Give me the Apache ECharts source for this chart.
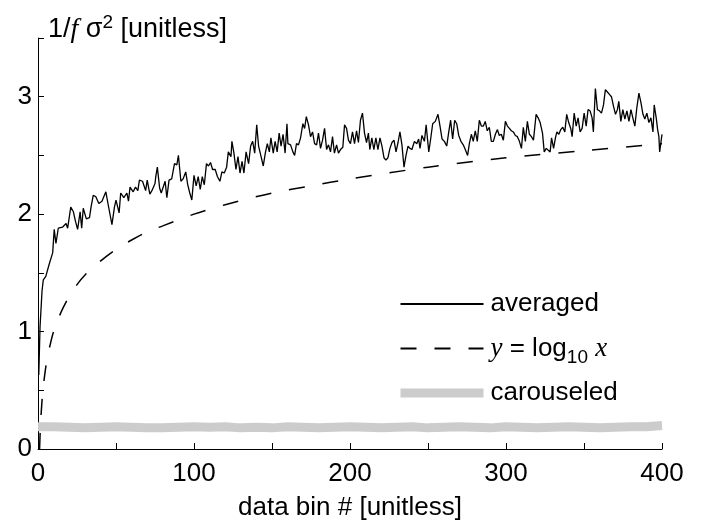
<!DOCTYPE html>
<html>
<head>
<meta charset="utf-8">
<script src="https://cdn.jsdelivr.net/npm/echarts@6/dist/echarts.min.js"></script>
<style>
  html, body { margin: 0; padding: 0; background: #fff; }
  #chart { width: 714px; height: 522px; }
</style>
</head>
<body>
<div id="chart"></div>
<script>
// averaged curve (x = data bin, y = 1/f sigma^2)
const avgX = [0.5, 1.3, 2.6, 3.4, 5, 7.3, 9.4, 10.4, 11.5, 13, 15.8, 18, 19, 21, 22.7, 24, 25.4, 27, 28, 29, 31, 33, 34, 35.4, 37, 39, 41, 43.5, 45, 47.4, 49, 50, 52, 53, 55, 57, 58, 59, 61, 62.5, 64, 65, 67, 69, 70, 71.7, 73, 75, 75.5, 76.5,
  78, 79, 81.5, 82.6, 84, 85.7, 87.5, 89, 90, 91.6, 93, 94.7, 96, 97.3, 98.6, 100, 101.4, 102.7, 104, 105.3, 106.6, 108, 109.3, 110.6, 111.9, 113.6, 115, 116.6, 117.9, 119.4, 120.9, 122, 123.7, 124.3, 125.6, 126.9, 128.2, 129.5, 130.8, 132, 133.4, 135, 136.3, 137.6, 138.9, 140.2, 141.4, 143, 144.4, 145.7, 147, 148.3, 149.3, 150.8, 152, 153.3, 154.6, 155.8, 157.1, 158.4, 159.6,
  160.2, 161.9, 163.4, 164.5, 165.7, 167, 168.3, 169.8, 170.9, 172, 173.4, 174.7, 176, 177.3, 178.6, 179.8, 181.1, 182.4, 183.7, 185, 186.2, 187.5, 188.8, 190, 191.4, 192.6, 193.9, 195.4, 196.5, 197.8, 199, 200.3, 201.6, 202.9, 204.2, 205.4, 206.7, 208, 209.3, 210.6, 211.8, 212.7, 214, 215.3, 216.6, 217.9, 219.2, 220.5, 221.8, 223, 224.3, 225.6, 226.9, 228.2, 229.5, 230.8, 232, 233.3, 234.6, 235.9, 237.2, 238.4,
  239.7, 241.3, 242.8, 244, 244.9, 246.1, 247.7, 248.8, 250.5, 251.7, 253, 254.7, 256.4, 257.7, 259, 260.5, 262, 263.3, 264.5, 265.8, 267.1, 268.4, 269.7, 271.1, 272.6, 273.9, 275.4, 276.5, 277.8, 279, 280.3, 281.6, 282.9, 284.2, 285.5, 286.7, 288, 289.3, 290.6, 291.9, 293.2, 294.5, 295.7, 297, 298.3, 299.6, 300.9, 302.2, 303.4, 304.7, 306, 307.3, 308.6, 309.9, 311.1, 312.4, 313.7, 315, 316.3, 317.6, 319.3,
  320.6, 321.9, 323.4, 324.5, 325.8, 327, 328.3, 329.2, 330.5, 331.7, 332.6, 333.9, 335.1, 336.4, 337.7, 338.9, 340.2, 341.5, 342.4, 343.7, 345, 346.2, 347.5, 348.8, 350.1, 351.4, 352.6, 353.9, 355.2, 356, 357.3, 358.6, 359.9, 361.2, 362.5, 363.7, 365, 366.3, 367.6, 368.9, 370.2, 371.4, 372.3, 373.6, 374.9, 376.2, 377.5, 378.8, 380.1, 381.3, 382.6, 383.9, 385.2, 386.5, 387.8, 389, 390.3, 391.6, 392.9, 394.2, 395, 396.3, 397.2, 398, 398.5, 399.4, 400]
const avgY = [0.63, 1.04, 1.35, 1.44, 1.47, 1.58, 1.67, 1.87, 1.75, 1.88, 1.89, 1.92, 1.88, 2.06, 2.02, 1.94, 1.87, 2.02, 1.88, 2.05, 1.96, 1.97, 2.06, 2.16, 2.15, 2.09, 2.11, 2.19, 2.08, 1.91, 2.06, 2.12, 2.01, 2.18, 2.14, 2.18, 2.11, 2.23, 2.19, 2.23, 2.20, 2.29, 2.28, 2.20, 2.29, 2.17, 2.20, 2.26, 2.32, 2.40,
  2.22, 2.18, 2.28, 2.14, 2.29, 2.30, 2.43, 2.42, 2.50, 2.28, 2.30, 2.36, 2.25, 2.18, 2.12, 2.33, 2.24, 2.32, 2.21, 2.32, 2.25, 2.43, 2.41, 2.44, 2.38, 2.38, 2.32, 2.28, 2.36, 2.35, 2.40, 2.53, 2.49, 2.62, 2.52, 2.38, 2.49, 2.35, 2.45, 2.35, 2.53, 2.43, 2.58, 2.62, 2.52, 2.76, 2.58, 2.49, 2.41, 2.52, 2.60, 2.53, 2.65, 2.52, 2.62, 2.53, 2.69, 2.58, 2.68, 2.52, 2.77,
  2.60, 2.59, 2.53, 2.50, 2.60, 2.59, 2.65, 2.77, 2.73, 2.83, 2.76, 2.66, 2.70, 2.60, 2.59, 2.69, 2.56, 2.63, 2.73, 2.55, 2.59, 2.53, 2.66, 2.52, 2.59, 2.52, 2.55, 2.57, 2.76, 2.73, 2.63, 2.60, 2.70, 2.60, 2.71, 2.61, 2.80, 2.86, 2.69, 2.61, 2.69, 2.55, 2.65, 2.55, 2.65, 2.55, 2.65, 2.58, 2.48, 2.46, 2.48, 2.56, 2.61, 2.63, 2.53, 2.61, 2.70, 2.59, 2.40, 2.50, 2.58, 2.56,
  2.55, 2.62, 2.60, 2.64, 2.56, 2.67, 2.62, 2.76, 2.53, 2.64, 2.77, 2.79, 2.85, 2.75, 2.64, 2.62, 2.58, 2.70, 2.80, 2.64, 2.80, 2.77, 2.67, 2.62, 2.59, 2.55, 2.50, 2.60, 2.68, 2.62, 2.71, 2.62, 2.80, 2.75, 2.75, 2.79, 2.71, 2.74, 2.62, 2.62, 2.68, 2.72, 2.67, 2.68, 2.63, 2.79, 2.75, 2.73, 2.71, 2.70, 2.67, 2.66, 2.62, 2.56, 2.74, 2.62, 2.79, 2.68, 2.66, 2.63, 2.85,
  2.82, 2.78, 2.69, 2.53, 2.56, 2.55, 2.53, 2.65, 2.56, 2.65, 2.70, 2.68, 2.72, 2.74, 2.70, 2.85, 2.78, 2.73, 2.66, 2.86, 2.75, 2.82, 2.70, 2.73, 2.86, 2.75, 2.89, 2.88, 2.82, 2.70, 3.07, 2.89, 2.88, 2.86, 2.93, 3.06, 3.04, 3.02, 3.00, 2.92, 2.85, 2.89, 2.96, 2.79, 2.89, 2.81, 2.88, 2.79, 2.89, 2.82, 2.75, 2.91, 3.03, 2.95, 2.85, 2.81, 2.86, 2.78, 2.82, 2.70, 2.93, 2.82, 2.72, 2.66, 2.53, 2.62, 2.68]

// dashed reference curve y = log10 x
const logX = [1, 1.5, 2, 3, 4, 5, 6, 8, 10, 13, 16, 20, 25, 30, 40, 50, 60, 70, 80, 100, 120, 150, 175, 200, 250, 300, 350, 400]
const logY = [0, 0.18, 0.30, 0.48, 0.60, 0.70, 0.78, 0.90, 1.00, 1.11, 1.20, 1.30, 1.40, 1.48, 1.60, 1.70, 1.78, 1.85, 1.90, 2.00, 2.08, 2.18, 2.24, 2.30, 2.40, 2.48, 2.54, 2.60]

// carouseled band, every 10 bins
const carX = [0, 10, 20, 30, 40, 50, 60, 70, 80, 90, 100, 110, 120, 130, 140, 150, 160, 170, 180, 190, 200, 210, 220, 230, 240, 250, 260, 270, 280, 290, 300, 310, 320, 330, 340, 350, 360, 370, 380, 390, 400]
const carY = [0.19, 0.19, 0.185, 0.18, 0.185, 0.19, 0.185, 0.18, 0.18, 0.185, 0.19, 0.185, 0.19, 0.18, 0.185, 0.18, 0.19, 0.185, 0.18, 0.185, 0.19, 0.185, 0.18, 0.185, 0.19, 0.18, 0.185, 0.19, 0.185, 0.18, 0.19, 0.185, 0.18, 0.185, 0.19, 0.185, 0.18, 0.185, 0.19, 0.19, 0.2]

const pairs = (xs, ys) => xs.map((x, i) => [x, ys[i]])

const font = "'Liberation Sans', Arial, sans-serif"
const serif = "'Liberation Serif', 'Times New Roman', serif"

const chart = echarts.init(document.getElementById('chart'))
chart.setOption({
  backgroundColor: '#fff',
  animation: false,
  textStyle: { fontFamily: font, color: '#000' },
  grid: { left: 38, right: 52, top: 38, bottom: 73, outerBoundsMode: 'none' },
  legend: {
    orient: 'vertical',
    left: 396,
    top: 289,
    padding: 0,
    itemWidth: 83,
    itemHeight: 10,
    itemGap: 11,
    data: [
      { name: 'averaged' },
      { name: 'log' },
      { name: 'carouseled', lineStyle: { width: 9, color: '#cccccc' } }
    ],
    itemStyle: { opacity: 0 },
    textStyle: {
      fontFamily: font,
      fontSize: 26,
      color: '#000',
      lineHeight: 30,
      padding: [0, 0, 0, 2],
      rich: {
        i: { fontFamily: serif, fontStyle: 'italic', fontSize: 27, lineHeight: 30 },
        sub: { fontSize: 19, lineHeight: 30, padding: [18, 0, 0, 0] }
      }
    },
    formatter: name => name === 'log' ? '{i|y} = log{sub|10} {i|x}' : name
  },
  xAxis: {
    type: 'value',
    min: 0,
    max: 400,
    interval: 50,
    name: 'data bin # [unitless]',
    nameLocation: 'middle',
    nameGap: 46,
    nameTextStyle: { fontSize: 26, color: '#000' },
    axisLine: { lineStyle: { color: '#000', width: 1 } },
    axisTick: { inside: true, length: 6, lineStyle: { color: '#000' } },
    axisLabel: {
      fontSize: 26,
      color: '#000',
      margin: 12,
      formatter: v => (v % 100 === 0 ? String(v) : '')
    },
    splitLine: { show: false }
  },
  yAxis: {
    type: 'value',
    min: 0,
    max: 3.5,
    interval: 0.5,
    name: '1/{i|f} σ{sup|2} [unitless]',
    nameLocation: 'end',
    nameGap: -7,
    nameTextStyle: {
      fontSize: 27,
      color: '#000',
      align: 'left',
      verticalAlign: 'bottom',
      lineHeight: 30,
      padding: [0, 0, 0, 10],
      rich: {
        i: { fontFamily: serif, fontStyle: 'italic', fontSize: 28, lineHeight: 30 },
        sup: { fontSize: 19, lineHeight: 30, padding: [0, 0, 14, 0] }
      }
    },
    axisLine: { show: true, lineStyle: { color: '#000', width: 1 } },
    axisTick: { show: true, inside: true, length: 6, lineStyle: { color: '#000' } },
    axisLabel: {
      fontSize: 26,
      color: '#000',
      margin: 6,
      formatter: v => (v % 1 === 0 ? String(v) : '')
    },
    splitLine: { show: false }
  },
  series: [
    {
      name: 'carouseled',
      type: 'line',
      showSymbol: false,
      symbol: 'none',
      lineStyle: { color: '#cccccc', width: 9 },
      data: pairs(carX, carY)
    },
    {
      name: 'log',
      type: 'line',
      showSymbol: false,
      symbol: 'none',
      smooth: 0.3,
      lineStyle: { color: '#000', width: 1.5, type: [16, 18] },
      data: pairs(logX, logY)
    },
    {
      name: 'averaged',
      type: 'line',
      showSymbol: false,
      symbol: 'none',
      lineStyle: { color: '#000', width: 1.3 },
      data: pairs(avgX, avgY)
    }
  ]
})
</script>
</body>
</html>
